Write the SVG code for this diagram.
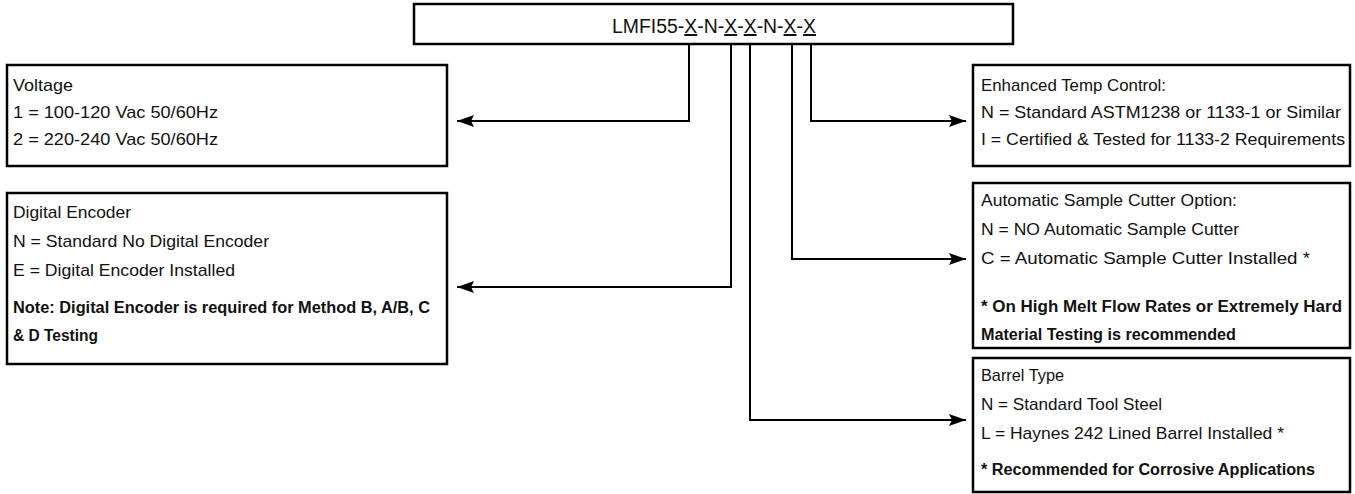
<svg xmlns="http://www.w3.org/2000/svg" width="1355" height="494" viewBox="0 0 1355 494">
<style>
.box{fill:#fff;stroke:#000;stroke-width:2.5}
.t{font-family:"Liberation Sans",Arial,sans-serif;font-size:17px;fill:#111}
.b{font-family:"Liberation Sans",Arial,sans-serif;font-size:16px;font-weight:bold;fill:#111}
.title{font-family:"Liberation Sans",Arial,sans-serif;font-size:20px;fill:#111}
.c{fill:none;stroke:#000;stroke-width:2}
</style>
<defs>
<marker id="arr" markerUnits="userSpaceOnUse" markerWidth="18" markerHeight="14" viewBox="0 0 18 14" refX="17" refY="7" orient="auto">
<path d="M0,1 L17,7 L0,13 L3,7 z" fill="#000"/>
</marker>
</defs>
<g id="title">
<rect class="box" x="414" y="4" width="599" height="40"/>
<text class="title" x="612" y="33" textLength="204" lengthAdjust="spacingAndGlyphs">LMFI55-<tspan text-decoration="underline">X</tspan>-N-<tspan text-decoration="underline">X</tspan>-<tspan text-decoration="underline">X</tspan>-N-<tspan text-decoration="underline">X</tspan>-<tspan text-decoration="underline">X</tspan></text>
</g>
<g id="voltage">
<rect class="box" x="7" y="65" width="440" height="101"/>
<text class="t" x="13" y="91" textLength="60" lengthAdjust="spacingAndGlyphs">Voltage</text>
<text class="t" x="13" y="118" textLength="205" lengthAdjust="spacingAndGlyphs">1 = 100-120 Vac 50/60Hz</text>
<text class="t" x="13" y="145" textLength="205" lengthAdjust="spacingAndGlyphs">2 = 220-240 Vac 50/60Hz</text>
</g>
<g id="digital-encoder">
<rect class="box" x="7" y="193" width="440" height="171"/>
<text class="t" x="13" y="218" textLength="118" lengthAdjust="spacingAndGlyphs">Digital Encoder</text>
<text class="t" x="13" y="247" textLength="256" lengthAdjust="spacingAndGlyphs">N = Standard No Digital Encoder</text>
<text class="t" x="13" y="276" textLength="222" lengthAdjust="spacingAndGlyphs">E = Digital Encoder Installed</text>
<text class="b" x="13" y="313" textLength="417" lengthAdjust="spacingAndGlyphs">Note: Digital Encoder is required for Method B, A/B, C</text>
<text class="b" x="13" y="341" textLength="85" lengthAdjust="spacingAndGlyphs">&amp; D Testing</text>
</g>
<g id="enhanced-temp">
<rect class="box" x="973" y="65" width="377" height="101"/>
<text class="t" x="981" y="91" textLength="185" lengthAdjust="spacingAndGlyphs">Enhanced Temp Control:</text>
<text class="t" x="981" y="118" textLength="360" lengthAdjust="spacingAndGlyphs">N = Standard ASTM1238 or 1133-1 or Similar</text>
<text class="t" x="981" y="145" textLength="364" lengthAdjust="spacingAndGlyphs">I = Certified &amp; Tested for 1133-2 Requirements</text>
</g>
<g id="sample-cutter">
<rect class="box" x="973" y="183" width="377" height="165"/>
<text class="t" x="981" y="206" textLength="256" lengthAdjust="spacingAndGlyphs">Automatic Sample Cutter Option:</text>
<text class="t" x="981" y="235" textLength="258" lengthAdjust="spacingAndGlyphs">N = NO Automatic Sample Cutter</text>
<text class="t" x="981" y="264" textLength="329" lengthAdjust="spacingAndGlyphs">C = Automatic Sample Cutter Installed *</text>
<text class="b" x="981" y="312" textLength="361" lengthAdjust="spacingAndGlyphs">* On High Melt Flow Rates or Extremely Hard</text>
<text class="b" x="981" y="340" textLength="255" lengthAdjust="spacingAndGlyphs">Material Testing is recommended</text>
</g>
<g id="barrel-type">
<rect class="box" x="973" y="358" width="377" height="134"/>
<text class="t" x="981" y="381" textLength="83" lengthAdjust="spacingAndGlyphs">Barrel Type</text>
<text class="t" x="981" y="410" textLength="181" lengthAdjust="spacingAndGlyphs">N = Standard Tool Steel</text>
<text class="t" x="981" y="439" textLength="303" lengthAdjust="spacingAndGlyphs">L = Haynes 242 Lined Barrel Installed *</text>
<text class="b" x="981" y="475" textLength="334" lengthAdjust="spacingAndGlyphs">* Recommended for Corrosive Applications</text>
</g>
<g id="connectors">
<path class="c" d="M689,44 V121 H457" marker-end="url(#arr)"/>
<path class="c" d="M731,44 V287 H457" marker-end="url(#arr)"/>
<path class="c" d="M750,44 V420 H966" marker-end="url(#arr)"/>
<path class="c" d="M792,44 V259 H966" marker-end="url(#arr)"/>
<path class="c" d="M811,44 V121 H966" marker-end="url(#arr)"/>
</g>
</svg>
